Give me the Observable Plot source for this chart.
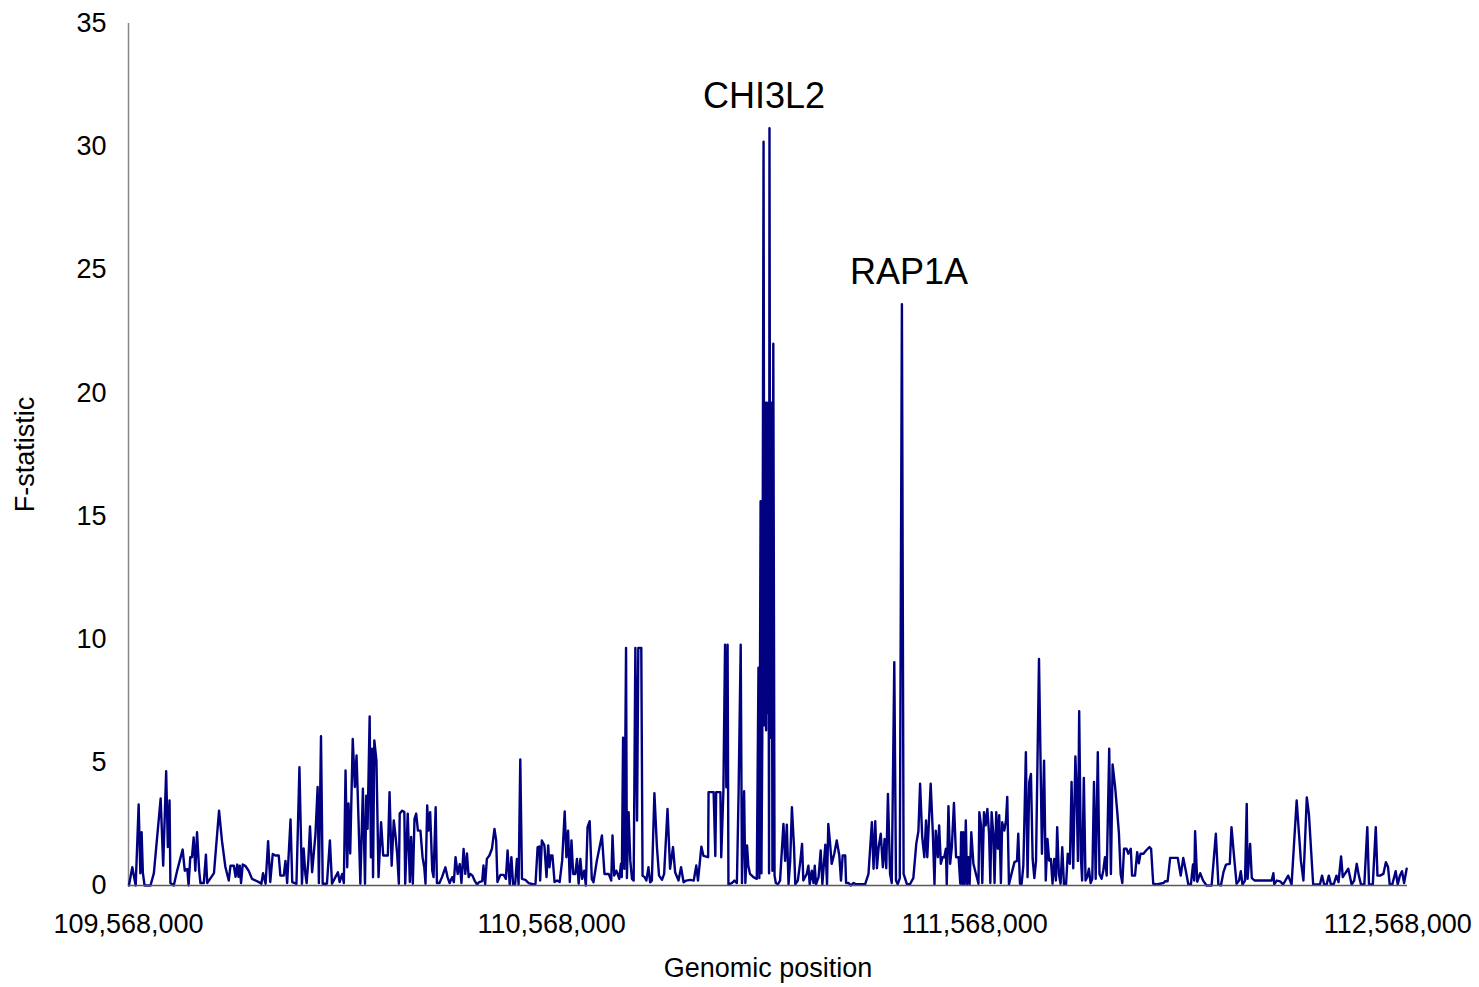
<!DOCTYPE html>
<html><head><meta charset="utf-8">
<script src="https://cdn.jsdelivr.net/npm/d3@7"></script>
<script src="https://cdn.jsdelivr.net/npm/@observablehq/plot@0.6"></script>
<style>html,body{margin:0;padding:0;background:#fff;overflow:hidden;}</style>
</head><body><div id="chart"></div>
<script>
// Genomic positions in kilobases
const positionKb = [
109569,109577,109585,109592,109596,109599,109602,109606,109620,109628,109644,109650,109657,109661,109665,109667,109675,109683,109689,109696,
109701,109707,109710,109714,109718,109722,109726,109730,109735,109738,109746,109751,109754,109762,109770,109782,109789,109797,109805,109809,
109817,109821,109825,109828,109831,109834,109838,109844,109852,109860,109876,109882,109886,109892,109898,109903,109909,109915,109923,109927,
109935,109939,109943,109951,109955,109961,109965,109972,109978,109982,109986,109989,109993,109997,110002,110010,110015,110018,110023,110027,
110037,110044,110049,110057,110063,110067,110073,110077,110081,110085,110088,110092,110098,110103,110107,110111,110116,110122,110127,110130,
110133,110138,110141,110144,110146,110149,110154,110159,110165,110170,110181,110185,110190,110195,110199,110203,110207,110209,110215,110220,
110222,110228,110233,110236,110240,110244,110248,110252,110258,110263,110267,110270,110274,110277,110281,110286,110289,110294,110297,110303,
110309,110317,110322,110327,110333,110337,110341,110346,110351,110355,110360,110364,110368,110372,110376,110381,110386,110392,110397,110404,
110407,110411,110415,110421,110427,110433,110437,110440,110447,110455,110460,110464,110469,110473,110477,110482,110486,110490,110494,110498,
110506,110514,110526,110530,110535,110539,110541,110545,110551,110556,110560,110563,110566,110570,110575,110581,110587,110593,110599,110603,
110607,110611,110615,110619,110624,110628,110632,110636,110640,110645,110649,110653,110658,110663,110667,110675,110687,110693,110703,110709,
110712,110716,110721,110724,110728,110732,110734,110737,110740,110744,110746,110750,110754,110758,110762,110766,110770,110773,110780,110783,
110788,110792,110797,110801,110805,110811,110817,110822,110829,110834,110842,110848,110855,110860,110868,110874,110880,110886,110896,110904,
110910,110914,110917,110922,110927,110938,110939,110951,110955,110957,110967,110969,110974,110978,110981,110984,110986,110994,111000,111006,
111010,111015,111018,111023,111026,111030,111033,111037,111045,111053,111057,111059,111062,111064,111066,111069,111071,111073,111075,111076,
111078,111080,111082,111083,111085,111088,111090,111092,111095,111098,111103,111108,111116,111120,111124,111128,111132,111136,111141,111144,
111150,111156,111160,111163,111171,111175,111178,111183,111187,111190,111193,111199,111204,111208,111215,111219,111222,111226,111230,111236,
111242,111248,111252,111256,111262,111264,111270,111275,111282,111288,111297,111309,111317,111325,111329,111333,111337,111341,111346,111351,
111355,111359,111363,111368,111372,111378,111382,111386,111391,111396,111400,111408,111415,111423,111430,111435,111439,111444,111449,111453,
111456,111464,111469,111473,111476,111481,111484,111488,111492,111496,111500,111502,111506,111510,111514,111519,111524,111530,111534,111536,
111539,111541,111544,111547,111550,111553,111556,111560,111565,111571,111577,111579,111583,111586,111590,111594,111598,111602,111605,111608,
111612,111615,111619,111623,111626,111630,111633,111638,111642,111645,111649,111654,111662,111668,111671,111675,111679,111683,111685,111689,
111693,111697,111701,111705,111709,111713,111720,111727,111732,111736,111740,111744,111748,111752,111756,111760,111763,111767,111771,111775,
111779,111784,111788,111793,111797,111801,111806,111809,111812,111815,111819,111822,111826,111830,111834,111838,111842,111846,111850,111854,
111859,111863,111868,111872,111876,111880,111886,111890,111894,111900,111905,111909,111913,111917,111921,111927,111931,111937,111940,111947,
111952,111956,111960,111967,111973,111981,111985,111990,111998,112014,112018,112024,112030,112048,112055,112061,112067,112073,112079,112084,
112087,112089,112094,112101,112108,112116,112128,112138,112144,112150,112156,112162,112171,112175,112182,112187,112193,112197,112201,112207,
112211,112213,112219,112223,112230,112238,112254,112270,112274,112276,112282,112290,112297,112309,112317,112329,112339,112345,112353,112358,
112368,112376,112384,112389,112394,112400,112405,112410,112417,112423,112428,112434,112438,112443,112451,112459,112465,112471,112476,112481,
112489,112496,112500,112509,112516,112520,112526,112534,112540,112545,112549,112555,112563,112568,112573,112578,112583,112589
];
const fStatistic = [
0,0.74,0,3.29,0.5,2.16,0.5,0,0,0.5,3.53,0.8,4.64,1.56,3.45,0.1,0,0.6,1.0,1.46,
0.6,0.67,0,1.15,1.15,1.95,0.6,2.16,0.6,0.1,0.1,1.25,0.1,0.3,0.5,3.04,1.8,0.75,0.2,0.8,
0.8,0.35,0.85,0.35,0.8,0.1,0.85,0.8,0.6,0.27,0.14,0.07,0.5,0.07,1.8,0.14,1.28,1.22,1.22,0.4,
0.4,1.0,0.1,2.68,0.14,0.1,0.07,4.8,0.07,1.5,0.47,0.1,1.0,2.4,0.54,2.1,4.0,0.1,6.06,0.07,
0.07,1.83,0.07,0.34,0.54,0.14,0.47,0.1,4.67,0.74,3.33,1.3,5.95,4.0,5.28,3.04,0.07,3.93,0.07,3.65,
2.3,6.86,1.15,5.55,0.34,5.89,5.07,0.34,2.57,1.22,1.22,3.79,0.8,2.64,2.03,1.28,0.07,2.92,3.04,2.98,
0.07,2.92,0.14,1.97,0.07,2.71,2.92,2.23,2.23,1.15,0.74,0.07,3.25,2.23,2.98,0.6,0.34,3.18,0.1,0.1,
0.34,0.74,0.34,0.1,0.34,0.14,1.15,0.47,0.87,0.1,1.48,0.47,1.3,0.34,0.47,0.4,0.2,0.04,0.14,0.18,
0.81,0.04,1.08,1.22,1.49,2.3,1.83,0.14,0.43,0.43,0.27,1.42,0.04,1.15,0.04,0.07,1.08,0.04,5.12,0.27,
0.23,0.1,0.04,0.07,1.56,1.58,0.2,1.83,1.63,0.34,1.63,0.74,1.22,1.22,0.14,0.2,0.14,1.01,3.01,1.15,
2.23,0.14,1.83,0.47,0.47,1.08,0.07,1.08,0.27,0.6,0,2.37,2.61,0.27,0.13,1.01,2.03,0.47,0.47,0.2,
2.03,0.4,0.6,0.47,0.27,0.88,0.34,6.0,0.68,9.65,0.3,2.98,1.01,0.27,0.2,9.65,2.64,9.65,9.65,0.4,
0.34,0.2,0.74,0.13,0.2,3.75,1.56,0.4,0.23,0.47,3.11,0.68,1.56,0.54,0.2,0.74,0.13,0.2,0.23,0.2,
0.81,0.2,0.7,1.58,1.2,1.15,3.79,3.79,1.2,3.79,3.79,1.15,3.79,9.78,3.99,9.78,0.05,0.1,0.2,0.1,
3.79,9.78,0.1,3.83,0.1,1.63,0.8,0.47,0.34,0.27,8.84,0.3,15.6,0.5,6.0,30.2,6.5,19.6,6.3,19.6,
7.0,19.6,0.5,30.75,6.0,19.6,0.6,22.0,0.4,0.1,0.05,0.2,2.5,1.0,2.47,0.05,1.0,3.18,1.56,0.05,
0.2,1.0,1.69,0.2,0.47,0.8,0.05,0.6,0.1,0.8,0.05,0.34,1.42,0.05,1.66,0.05,2.5,1.76,0.88,1.28,
1.83,1.22,0.2,1.22,1.22,0.1,0.1,0,0.1,0.05,0.05,0.05,0.47,2.57,0.68,2.61,0.7,1.56,2.1,0.74,
1.89,0.7,3.72,0.47,0.1,9.07,0.2,0.05,0.3,23.6,0.47,0.05,0.05,0.3,1.7,2.2,4.13,1.96,1.15,2.64,
1.15,4.13,2.16,0.04,2.23,1.15,2.44,0.88,1.15,1.15,1.49,0.04,3.22,0.88,1.56,3.35,1.15,1.15,0.07,2.16,
0.04,2.16,0.04,2.64,0.04,1.15,0.04,2.16,0.88,0.47,0.07,2.98,2.44,0.1,2.98,2.44,3.11,2.1,0.1,2.98,
2.1,0.1,2.98,1.49,2.85,0.1,2.57,2.23,2.64,3.6,0.04,0.4,0.95,1.0,2.1,0.07,0.07,0.81,2.23,5.41,
0.34,4.2,4.53,1.08,0.3,1.0,9.2,1.29,5.07,0.2,1.89,1.01,1.08,0.07,1.08,0.2,2.37,0.47,0.07,1.56,
0.04,0.04,1.29,0.88,4.2,0.7,5.24,3.86,1.0,7.08,1.15,0.2,4.37,0.2,0.34,0.68,0.1,0.27,4.2,0.27,
5.41,0.47,0.27,0.61,1.15,0.4,5.55,0.47,4.91,3.99,2.98,2.1,0.47,0.1,1.49,1.49,1.29,1.49,0.4,0.4,
1.35,0.9,1.29,1.29,1.42,1.56,1.49,0.07,0.04,0.1,0.17,0.17,1.12,1.12,0.4,1.12,0.6,0.04,0.04,0.85,
0.2,2.2,0.15,0.5,0.2,0,0,2.1,0.04,0,0.54,0.85,0.88,2.37,1.0,0.07,0.2,0.58,0.04,0.2,
3.31,0.27,1.69,0.3,0.2,0.2,0.2,0.2,0.5,0.05,0.2,0.17,0.04,0.4,0.04,3.45,1.01,0.2,3.58,2.9,
0.05,0.04,0.04,0.4,0.04,0.04,0.4,0.04,0.07,0.4,0.14,1.18,0.34,0.47,0.68,0.04,0.2,0.88,0.4,0.04,
0.04,2.37,0.04,0.04,2.37,0.4,0.4,0.47,0.95,0.75,0.04,0.04,0.58,0.04,0.4,0.58,0.1,0.68
];
const xTickKb = [109568, 110568, 111568, 112568];
const yTicks = [0, 5, 10, 15, 20, 25, 30, 35];
const geneLabels = ["CHI3L2", "RAP1A"];
const genePosKb = [111070, 111413];
const geneLabelF = [31.55, 24.42];

const data = positionKb.map((p, i) => ({pos: p * 1000, f: fStatistic[i]}));
const genes = geneLabels.map((g, i) => ({name: g, pos: genePosKb[i] * 1000, f: geneLabelF[i]}));
const font = "'Liberation Sans', Arial, Helvetica, sans-serif";

const chart = Plot.plot({
  width: 1479, height: 987,
  marginLeft: 128, marginRight: 72, marginTop: 23, marginBottom: 102,
  style: {fontFamily: font, fontSize: "27px", color: "#000", background: "#fff"},
  x: {domain: [109568000, 112591000]},
  y: {domain: [0, 35]},
  marks: [
    Plot.ruleX([109568000], {y1: 0, y2: 35, stroke: "#868686", strokeWidth: 1.5}),
    Plot.line(data, {x: "pos", y: "f", stroke: "#000080", strokeWidth: 2.4}),
    Plot.ruleY([0], {stroke: "#5a5a5a", strokeWidth: 1.5}),
    Plot.axisX({ticks: xTickKb.map(k => k * 1000), tickFormat: d3.format(","), tickSize: 0, tickPadding: 28, label: null, fontSize: 27}),
    Plot.axisY({ticks: yTicks, tickSize: 0, tickPadding: 22, label: null, fontSize: 27}),
    Plot.text(genes, {x: "pos", y: "f", text: "name", fontSize: 36, lineAnchor: "bottom", fill: "#000"}),
    Plot.text(["Genomic position"], {frameAnchor: "bottom", dy: 83, text: d => d, fontSize: 27, textAnchor: "middle", lineAnchor: "middle", fill: "#000"}),
    Plot.text(["F-statistic"], {frameAnchor: "left", dx: -103, rotate: -90, text: d => d, fontSize: 27, textAnchor: "middle", lineAnchor: "middle", fill: "#000"})
  ]
});
document.getElementById("chart").appendChild(chart);
</script>
</body></html>
